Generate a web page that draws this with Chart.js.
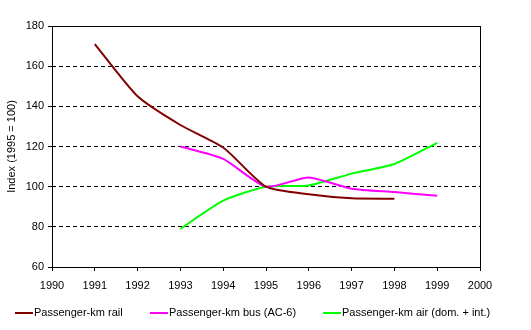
<!DOCTYPE html>
<html>
<head>
<meta charset="utf-8">
<script src="https://cdn.jsdelivr.net/npm/chart.js@4/dist/chart.umd.min.js"></script>
<style>
  html, body { margin: 0; padding: 0; background: #fff; }
  #wrap { width: 531px; height: 330px; }
</style>
</head>
<body>
<div id="wrap"><canvas id="c" width="531" height="330"></canvas></div>
<script>
// Passenger-km indices, 1995 = 100
const years = ['1990','1991','1992','1993','1994','1995','1996','1997','1998','1999','2000'];
const rail  = [null, 171, 145, 130.7, 119.5, 100, 96.2, 94.2, 94, null, null];
const bus   = [null, null, null, 120, 113.8, 100, 104.6, 99, 97.3, 95.5, null];
const air   = [null, null, null, 79, 93, 100, 100.6, 106.5, 111.3, 121.8, null];
const seriesNames = ['Passenger-km rail', 'Passenger-km bus (AC-6)', 'Passenger-km air (dom. + int.)'];
const seriesColors = ['#800000', '#FF00FF', '#00FF00'];

const FONT = 'Liberation Sans, Arial, sans-serif';

// frame around the plot area and the legend row underneath
const framePlugin = {
  id: 'frame',
  afterDraw(chart) {
    const { ctx, chartArea: a } = chart;
    ctx.save();
    ctx.setLineDash([]);
    ctx.strokeStyle = '#000';
    ctx.lineWidth = 1;
    ctx.strokeRect(Math.round(a.left) + 0.5, Math.round(a.top) + 0.5,
                   Math.round(a.right - a.left), Math.round(a.bottom - a.top));
    // legend
    const legendX = [15, 150, 323];
    const y = 313;
    ctx.font = '11px ' + FONT;
    ctx.textBaseline = 'middle';
    ctx.fillStyle = '#000';
    seriesNames.forEach((name, i) => {
      ctx.strokeStyle = seriesColors[i];
      ctx.lineWidth = 2;
      ctx.beginPath();
      ctx.moveTo(legendX[i], y);
      ctx.lineTo(legendX[i] + 18, y);
      ctx.stroke();
      ctx.fillText(name, legendX[i] + 19, y);
    });
    ctx.restore();
  }
};

const mk = (i, data) => ({
  label: seriesNames[i],
  data,
  borderColor: seriesColors[i],
  backgroundColor: seriesColors[i],
  borderWidth: 2,
  pointRadius: 0,
  tension: 0.2,
  fill: false,
  spanGaps: false
});

new Chart(document.getElementById('c'), {
  type: 'line',
  data: {
    labels: years,
    datasets: [mk(0, rail), mk(1, bus), mk(2, air)]
  },
  options: {
    responsive: false,
    animation: false,
    layout: { padding: { top: 26, right: 51, left: 0, bottom: 0 } },
    plugins: { legend: { display: false }, tooltip: { enabled: false } },
    scales: {
      x: {
        type: 'category',
        offset: false,
        afterFit(s) { s.height = 63; },
        grid: {
          drawOnChartArea: false,
          tickLength: 4,
          tickColor: '#000',
          color: '#000'
        },
        border: { display: false },
        ticks: {
          color: '#000',
          font: { family: FONT, size: 11 },
          padding: 8,
          maxRotation: 0,
          autoSkip: false
        }
      },
      y: {
        min: 60,
        max: 180,
        afterFit(s) { s.width = 52; },
        ticks: {
          stepSize: 20,
          color: '#000',
          font: { family: FONT, size: 11 },
          padding: 4
        },
        grid: {
          color: (c) => (c.tick && (c.tick.value === 60 || c.tick.value === 180)) ? 'rgba(0,0,0,0)' : '#000',
          lineWidth: 1,
          tickLength: 4,
          tickColor: '#000',
          tickBorderDash: [0, 0]
        },
        border: { display: false, dash: [4, 3] },
        title: {
          display: true,
          text: 'Index (1995 = 100)',
          color: '#000',
          font: { family: FONT, size: 11 },
          padding: { top: 5, bottom: 0 }
        }
      }
    }
  },
  plugins: [framePlugin]
});
</script>
</body>
</html>
